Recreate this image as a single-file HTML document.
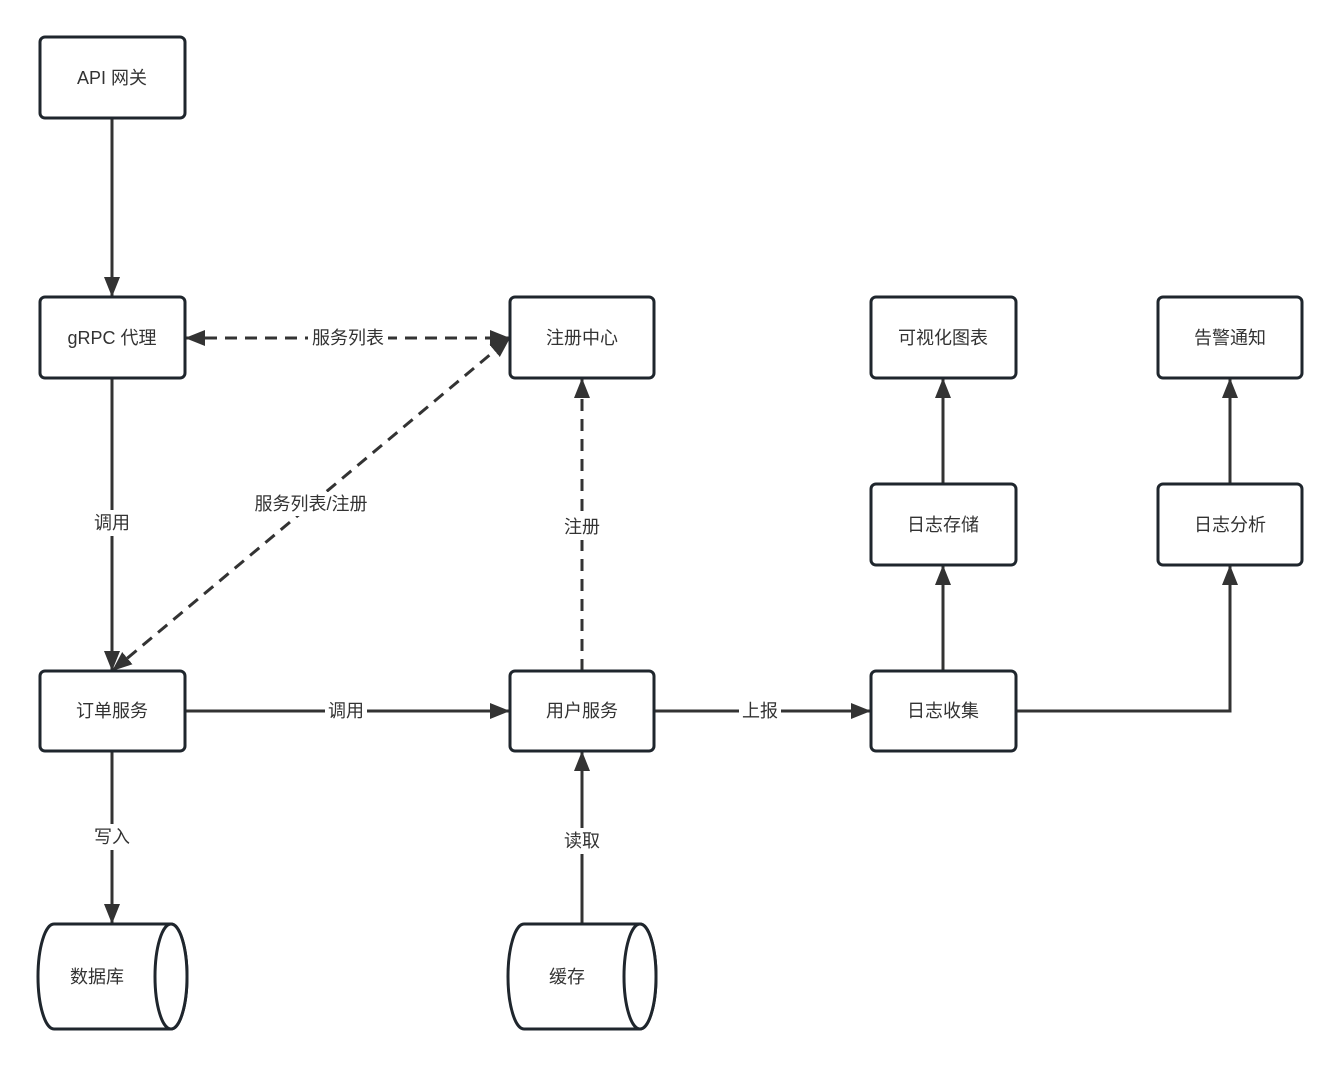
<!DOCTYPE html>
<html><head><meta charset="utf-8"><style>
html,body{margin:0;padding:0;background:#fff;}
svg text{font-family:"Liberation Sans","Noto Sans CJK SC",sans-serif;font-size:18px;fill:#333;}
</style></head><body>
<svg width="1339" height="1066" viewBox="0 0 1339 1066" xmlns="http://www.w3.org/2000/svg">
<defs>
<marker id="a" viewBox="0 0 20 16" refX="20" refY="8" markerWidth="20" markerHeight="16" markerUnits="userSpaceOnUse" orient="auto-start-reverse">
<path d="M0,0 L20,8 L0,16 Z" fill="#333"/>
</marker>
</defs>
<g stroke="#333" stroke-width="3" fill="none">
<line x1="112" y1="118" x2="112" y2="297" marker-end="url(#a)"/>
<line x1="112" y1="378" x2="112" y2="671" marker-end="url(#a)"/>
<line x1="185" y1="338" x2="510" y2="338" stroke-dasharray="12,8" marker-start="url(#a)" marker-end="url(#a)"/>
<line x1="112" y1="671" x2="510" y2="338" stroke-dasharray="12,8" marker-start="url(#a)" marker-end="url(#a)"/>
<line x1="582" y1="671" x2="582" y2="378" stroke-dasharray="12,8" marker-end="url(#a)"/>
<line x1="185" y1="711" x2="510" y2="711" marker-end="url(#a)"/>
<line x1="654" y1="711" x2="871" y2="711" marker-end="url(#a)"/>
<line x1="112" y1="751" x2="112" y2="924" marker-end="url(#a)"/>
<line x1="582" y1="924" x2="582" y2="751" marker-end="url(#a)"/>
<line x1="943" y1="671" x2="943" y2="565" marker-end="url(#a)"/>
<line x1="943" y1="484" x2="943" y2="378" marker-end="url(#a)"/>
<polyline points="1016,711 1230,711 1230,565" marker-end="url(#a)"/>
<line x1="1230" y1="484" x2="1230" y2="378" marker-end="url(#a)"/>
</g>
<g stroke="#1f262d" stroke-width="3" fill="#fff">
<rect x="40" y="37" width="145" height="81" rx="5"/>
<rect x="40" y="297" width="145" height="81" rx="5"/>
<rect x="510" y="297" width="144" height="81" rx="5"/>
<rect x="871" y="297" width="145" height="81" rx="5"/>
<rect x="1158" y="297" width="144" height="81" rx="5"/>
<rect x="871" y="484" width="145" height="81" rx="5"/>
<rect x="1158" y="484" width="144" height="81" rx="5"/>
<rect x="40" y="671" width="145" height="80" rx="5"/>
<rect x="510" y="671" width="144" height="80" rx="5"/>
<rect x="871" y="671" width="145" height="80" rx="5"/>
<path d="M54,924 L171,924 A16,52.5 0 0 1 171,1029 L54,1029 A16,52.5 0 0 1 54,924 Z"/>
<ellipse cx="171" cy="976.5" rx="16" ry="52.5"/>
<path d="M524,924 L640,924 A16,52.5 0 0 1 640,1029 L524,1029 A16,52.5 0 0 1 524,924 Z"/>
<ellipse cx="640" cy="976.5" rx="16" ry="52.5"/>
</g>
<g fill="#fff">
<rect x="308" y="326" width="80" height="24"/>
<rect x="246" y="492" width="130" height="24"/>
<rect x="92" y="510" width="40" height="26"/>
<rect x="561" y="514" width="42" height="26"/>
<rect x="325" y="699" width="42" height="24"/>
<rect x="739" y="699" width="42" height="24"/>
<rect x="92" y="824" width="40" height="26"/>
<rect x="561" y="828" width="42" height="26"/>
</g>
<g text-anchor="middle" dominant-baseline="central">
<text x="112" y="78">API 网关</text>
<text x="112" y="338">gRPC 代理</text>
<text x="582" y="338">注册中心</text>
<text x="943" y="338">可视化图表</text>
<text x="1230" y="338">告警通知</text>
<text x="943" y="525">日志存储</text>
<text x="1230" y="525">日志分析</text>
<text x="112" y="711">订单服务</text>
<text x="582" y="711">用户服务</text>
<text x="943" y="711">日志收集</text>
<text x="97" y="977">数据库</text>
<text x="567" y="977">缓存</text>
<text x="348" y="338">服务列表</text>
<text x="311" y="504">服务列表/注册</text>
<text x="112" y="523">调用</text>
<text x="582" y="527">注册</text>
<text x="346" y="711">调用</text>
<text x="760" y="711">上报</text>
<text x="112" y="837">写入</text>
<text x="582" y="841">读取</text>
</g>
</svg>
</body></html>
